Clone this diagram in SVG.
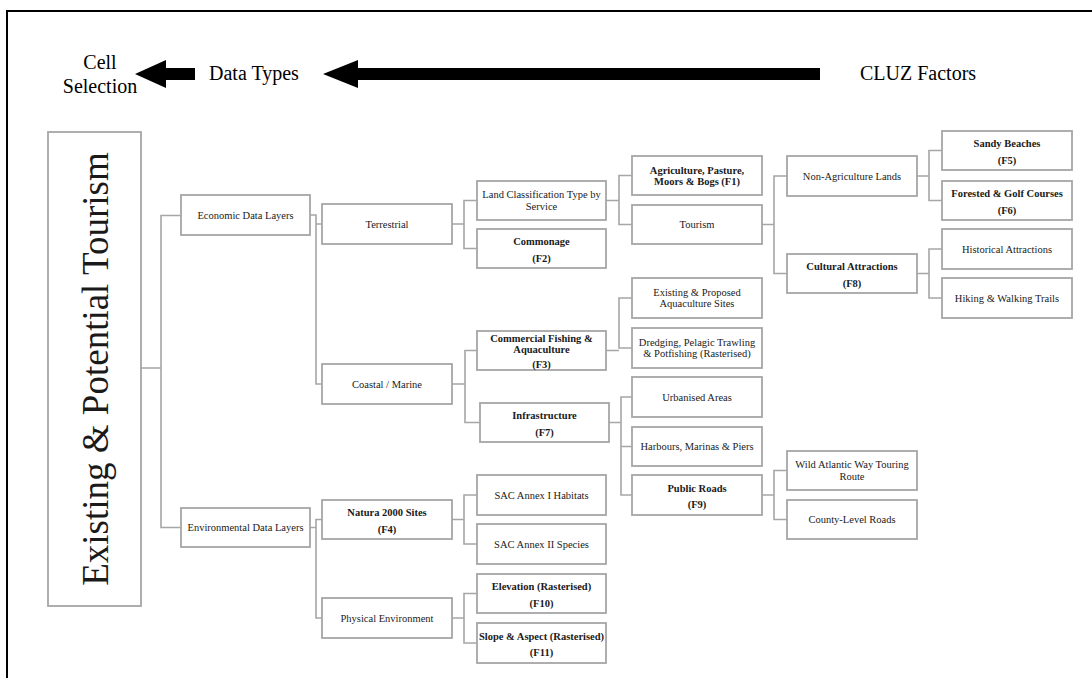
<svg xmlns="http://www.w3.org/2000/svg" width="1092" height="678" viewBox="0 0 1092 678">
<style>
.box{fill:#fff;stroke:#a6a6a6;stroke-width:1.8}
.con{fill:none;stroke:#a6a6a6;stroke-width:1.6}
text{font-family:"Liberation Serif","Times New Roman",serif;fill:#1a1a1a}
.t{font-size:10.5px;text-anchor:middle}
.b{font-weight:bold}
.hd{font-size:20px;fill:#000}
</style>
<rect x="0" y="0" width="1092" height="678" fill="#fff"/>
<path d="M7,678 V11 H1092" fill="none" stroke="#000" stroke-width="2"/>
<g id="header">
<text class="hd" x="100" y="69" text-anchor="middle">Cell</text>
<text class="hd" x="100" y="93" text-anchor="middle">Selection</text>
<text class="hd" x="209" y="80">Data Types</text>
<text class="hd" x="860" y="80">CLUZ Factors</text>
<polygon points="135,74 166,60 166,68 195,68 195,80 166,80 166,88" fill="#000"/>
<polygon points="323,74 358,60 358,68 820,68 820,80 358,80 358,88" fill="#000"/>
</g>
<g id="connectors">
<path class="con" d="M141,368 H161 M181,215.5 H161 V527.5 H181"/>
<path class="con" d="M310,215 H316 V384 H322 M316,224 H322"/>
<path class="con" d="M310,527.5 H316 M322,519.5 H316 V618 H322"/>
<path class="con" d="M452,224 H464 M477,200.5 H464 V248.5 H477"/>
<path class="con" d="M452,384 H465 M477,350.5 H465 V422.5 H480"/>
<path class="con" d="M452,519.5 H464 M477,495 H464 V544 H477"/>
<path class="con" d="M452,618 H464 M477,593.5 H464 V643 H477"/>
<path class="con" d="M606,200.5 H619 M632,175.5 H619 V224.5 H632"/>
<path class="con" d="M606,350.5 H619 M632,298 H619 V348 H632"/>
<path class="con" d="M609,422.5 H621 M632,397 H621 V495 H632 M621,446.5 H632"/>
<path class="con" d="M762,224.5 H774 M787,176 H774 V273.5 H787"/>
<path class="con" d="M762,495 H774 M787,470.5 H774 V519.5 H787"/>
<path class="con" d="M917,176 H929 M942,150.5 H929 V200.5 H942"/>
<path class="con" d="M917,273.5 H929 M942,249 H929 V298 H942"/>
</g>
<g id="main"><rect class="box" x="48" y="132" width="93" height="474"/>
<text transform="translate(108,369) rotate(-90)" text-anchor="middle" font-size="37">Existing &amp; Potential Tourism</text></g>
<g id="econ"><rect class="box" x="181" y="195" width="129" height="40"/><text class="t" x="245.5" y="218.5">Economic Data Layers</text></g>
<g id="env"><rect class="box" x="181" y="508" width="129" height="39"/><text class="t" x="245.5" y="531">Environmental Data Layers</text></g>
<g id="terr"><rect class="box" x="322" y="204" width="130" height="40"/><text class="t" x="387" y="227.5">Terrestrial</text></g>
<g id="coastal"><rect class="box" x="322" y="364" width="130" height="40"/><text class="t" x="387" y="387.5">Coastal / Marine</text></g>
<g id="natura"><rect class="box" x="322" y="500" width="130" height="39"/><text class="t b" x="387" y="516">Natura 2000 Sites</text><text class="t b" x="387" y="532.5">(F4)</text></g>
<g id="physical"><rect class="box" x="322" y="598" width="130" height="40"/><text class="t" x="387" y="621.5">Physical Environment</text></g>
<g id="landclass"><rect class="box" x="477" y="181" width="129" height="39"/><text class="t" x="541.5" y="198">Land Classification Type by</text><text class="t" x="541.5" y="209.5">Service</text></g>
<g id="commonage"><rect class="box" x="477" y="229" width="129" height="39"/><text class="t b" x="541.5" y="245">Commonage</text><text class="t b" x="541.5" y="261.5">(F2)</text></g>
<g id="commercial"><rect class="box" x="477" y="331" width="129" height="39"/><text class="t b" x="541.5" y="342">Commercial Fishing &amp;</text><text class="t b" x="541.5" y="352.5">Aquaculture</text><text class="t b" x="541.5" y="368">(F3)</text></g>
<g id="infra"><rect class="box" x="480" y="403" width="129" height="39"/><text class="t b" x="544.5" y="419">Infrastructure</text><text class="t b" x="544.5" y="435.5">(F7)</text></g>
<g id="sac1"><rect class="box" x="477" y="475" width="129" height="40"/><text class="t" x="541.5" y="498.5">SAC Annex I Habitats</text></g>
<g id="sac2"><rect class="box" x="477" y="524" width="129" height="40"/><text class="t" x="541.5" y="547.5">SAC Annex II Species</text></g>
<g id="elev"><rect class="box" x="477" y="574" width="129" height="39"/><text class="t b" x="541.5" y="590">Elevation (Rasterised)</text><text class="t b" x="541.5" y="606.5">(F10)</text></g>
<g id="slope"><rect class="box" x="477" y="623" width="129" height="40"/><text class="t b" x="541.5" y="639.5">Slope &amp; Aspect (Rasterised)</text><text class="t b" x="541.5" y="656">(F11)</text></g>
<g id="agri"><rect class="box" x="632" y="156" width="130" height="39"/><text class="t b" x="697" y="173.5">Agriculture, Pasture,</text><text class="t b" x="697" y="185">Moors &amp; Bogs (F1)</text></g>
<g id="tourism"><rect class="box" x="632" y="205" width="130" height="39"/><text class="t" x="697" y="228">Tourism</text></g>
<g id="aqua"><rect class="box" x="632" y="278" width="130" height="40"/><text class="t" x="697" y="295.5">Existing &amp; Proposed</text><text class="t" x="697" y="307">Aquaculture Sites</text></g>
<g id="dredging"><rect class="box" x="632" y="328" width="130" height="40"/><text class="t" x="697" y="345.5">Dredging, Pelagic Trawling</text><text class="t" x="697" y="357">&amp; Potfishing (Rasterised)</text></g>
<g id="urban"><rect class="box" x="632" y="377" width="130" height="40"/><text class="t" x="697" y="400.5">Urbanised Areas</text></g>
<g id="harbours"><rect class="box" x="632" y="427" width="130" height="39"/><text class="t" x="697" y="450">Harbours, Marinas &amp; Piers</text></g>
<g id="roads"><rect class="box" x="632" y="475" width="130" height="40"/><text class="t b" x="697" y="491.5">Public Roads</text><text class="t b" x="697" y="508">(F9)</text></g>
<g id="nonagri"><rect class="box" x="787" y="156" width="130" height="40"/><text class="t" x="852" y="179.5">Non-Agriculture Lands</text></g>
<g id="cultural"><rect class="box" x="787" y="254" width="130" height="39"/><text class="t b" x="852" y="270">Cultural Attractions</text><text class="t b" x="852" y="286.5">(F8)</text></g>
<g id="wild"><rect class="box" x="787" y="451" width="130" height="39"/><text class="t" x="852" y="468">Wild Atlantic Way Touring</text><text class="t" x="852" y="479.5">Route</text></g>
<g id="county"><rect class="box" x="787" y="500" width="130" height="39"/><text class="t" x="852" y="523">County-Level Roads</text></g>
<g id="sandy"><rect class="box" x="942" y="131" width="130" height="39"/><text class="t b" x="1007" y="147">Sandy Beaches</text><text class="t b" x="1007" y="163.5">(F5)</text></g>
<g id="forested"><rect class="box" x="942" y="181" width="130" height="39"/><text class="t b" x="1007" y="197">Forested &amp; Golf Courses</text><text class="t b" x="1007" y="213.5">(F6)</text></g>
<g id="historical"><rect class="box" x="942" y="229" width="130" height="40"/><text class="t" x="1007" y="252.5">Historical Attractions</text></g>
<g id="hiking"><rect class="box" x="942" y="278" width="130" height="40"/><text class="t" x="1007" y="301.5">Hiking &amp; Walking Trails</text></g>
</svg>
